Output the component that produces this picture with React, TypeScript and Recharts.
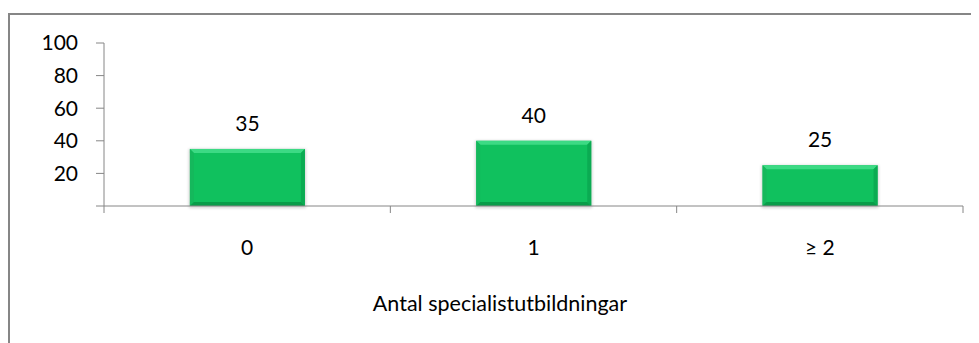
import React from "react";
import { BarChart, Bar, XAxis, YAxis } from "recharts";

// Andel (%) per antal specialistutbildningar
const categories = ["0", "1", "≥ 2"];
const shares = [35, 40, 25];
const yTicks = [0, 20, 40, 60, 80, 100];
const axisTitle = "Antal specialistutbildningar";

const data = categories.map((name, i) => ({ name, value: shares[i] }));

const W = 971;
const H = 335;
const MARGIN = { top: 35, right: 16, left: 0, bottom: 77 };
const Y_AXIS_W = 96;
const X_AXIS_H = 60;
const AXIS = "#868686";
const FONT = "Lato, 'Open Sans', sans-serif";
const FS = 21;

const bandWidth = (W - MARGIN.left - MARGIN.right - Y_AXIS_W) / categories.length;

function BevelBar(props: any) {
  const { x, y, width, height } = props;
  if (!height || height <= 0) return null;
  const b = 4;
  const w = width;
  const h = height;
  return (
    <g>
      <rect
        x={x - 1}
        y={y}
        width={w + 2}
        height={h + 2}
        fill="#000"
        opacity={0.18}
        filter="url(#barShadow)"
      />
      <rect x={x} y={y} width={w} height={h} fill="#10c15e" />
      <polygon
        points={`${x},${y} ${x + w},${y} ${x + w - b},${y + b} ${x + b},${y + b}`}
        fill="#3cda84"
      />
      <polygon
        points={`${x},${y} ${x + b},${y + b} ${x + b},${y + h - b} ${x},${y + h}`}
        fill="#15b85c"
      />
      <polygon
        points={`${x + w},${y} ${x + w},${y + h} ${x + w - b},${y + h - b} ${x + w - b},${y + b}`}
        fill="#0bab52"
      />
      <polygon
        points={`${x},${y + h} ${x + w},${y + h} ${x + w - b},${y + h - b} ${x + b},${y + h - b}`}
        fill="#099c49"
      />
    </g>
  );
}

function CategoryTick(props: any) {
  const { x, y, payload, index } = props;
  const left = x - bandWidth / 2;
  const right = x + bandWidth / 2;
  return (
    <g>
      <line x1={left} y1={y} x2={left} y2={y + 7} stroke={AXIS} />
      {index === categories.length - 1 && (
        <line x1={right} y1={y} x2={right} y2={y + 7} stroke={AXIS} />
      )}
      <text x={x} y={y + 49} textAnchor="middle" fill="#000" fontSize={FS}>
        {payload.value}
      </text>
    </g>
  );
}

export default function App() {
  return (
    <div
      style={{
        position: "relative",
        width: W,
        height: H,
        overflow: "hidden",
        fontFamily: FONT,
        background: "#fff",
      }}
    >
      <div
        style={{
          position: "absolute",
          left: 0,
          top: 5,
          width: W + 20,
          height: H + 20,
          borderTop: `2px solid ${AXIS}`,
          borderLeft: `2px solid ${AXIS}`,
          boxSizing: "border-box",
        }}
      />
      <BarChart
        width={W}
        height={H}
        data={data}
        margin={MARGIN}
        barCategoryGap="30%"
        style={{ position: "absolute", left: 0, top: 0 }}
      >
        <defs>
          <filter id="barShadow" x="-10%" y="-10%" width="120%" height="130%">
            <feGaussianBlur stdDeviation="1.5" />
          </filter>
        </defs>
        <YAxis
          width={Y_AXIS_W}
          domain={[0, 100]}
          ticks={yTicks}
          interval={0}
          tickSize={8}
          tickMargin={18}
          stroke={AXIS}
          tick={{ fill: "#000", fontSize: FS }}
          tickFormatter={(v: number) => (v === 0 ? "" : String(v))}
        />
        <XAxis
          dataKey="name"
          height={X_AXIS_H}
          interval={0}
          stroke={AXIS}
          tickLine={false}
          tickSize={0}
          tickMargin={0}
          tick={<CategoryTick />}
        />
        <Bar
          dataKey="value"
          shape={<BevelBar />}
          isAnimationActive={false}
          label={{ position: "top", offset: 18, fill: "#000", fontSize: FS }}
        />
      </BarChart>
      <div
        style={{
          position: "absolute",
          left: 0,
          width: 984,
          top: 282,
          textAlign: "center",
          fontSize: FS + 0.5,
          lineHeight: "26px",
          color: "#000",
        }}
      >
        {axisTitle}
      </div>
    </div>
  );
}
